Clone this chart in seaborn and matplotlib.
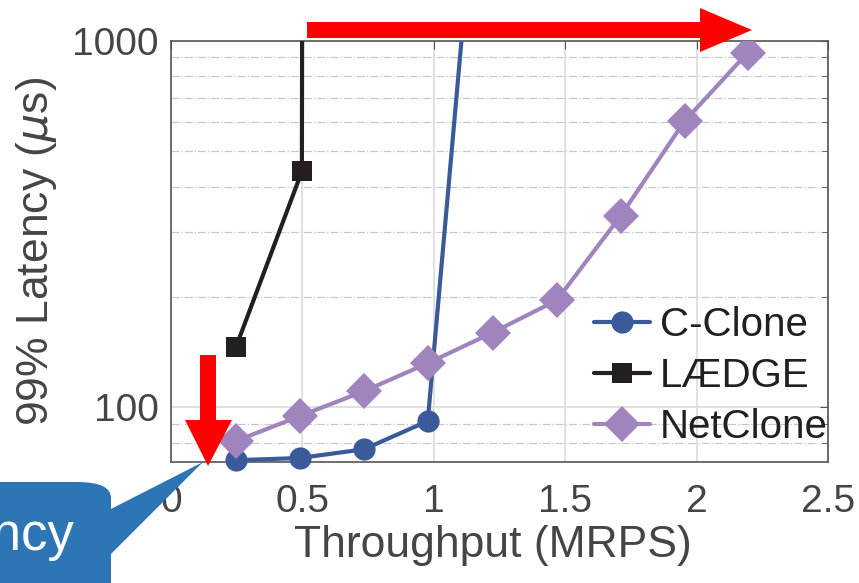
import numpy as np
import pandas as pd
import matplotlib
matplotlib.use("Agg")
import matplotlib.pyplot as plt
import seaborn as sns
from matplotlib.patches import Polygon, FancyBboxPatch
from matplotlib.ticker import FixedLocator, NullFormatter
from matplotlib.transforms import Bbox, TransformedBbox

# --- data ---
cclone_x = [0.247, 0.49, 0.734, 0.977, 1.115]
cclone_y = [71.8, 72.8, 76.9, 91.8, 1200]
laedge_x = [0.247, 0.498, 0.5]
laedge_y = [146, 440, 3000]
netclone_x = [0.247, 0.49, 0.734, 0.977, 1.224, 1.468, 1.711, 1.954, 2.194]
netclone_y = [81, 94.7, 110.7, 132, 160, 196, 333, 603, 927]

series_names = ["C-Clone", "LÆDGE", "NetClone"]
series_colors = ["#3b5a9a", "#231f20", "#a084bd"]
series_markers = ["o", "s", "D"]
series_msize = [16, 14, 18]

x_ticks = [0, 0.5, 1, 1.5, 2, 2.5]
x_ticklabels = ["0", "0.5", "1", "1.5", "2", "2.5"]
y_ticks = [100, 1000]
y_ticklabels = ["100", "1000"]

W, H = 859, 583
sns.set_style("white")
plt.rcParams["font.family"] = ["Liberation Sans", "DejaVu Sans"]
plt.rcParams["mathtext.fontset"] = "dejavusans"

fig = plt.figure(figsize=(W / 100, H / 100), dpi=100)
ax = fig.add_axes([171 / W, 1 - 462 / H, (828 - 171) / W, (462 - 40.7) / H])

xs = [cclone_x, laedge_x, netclone_x]
ys = [cclone_y, laedge_y, netclone_y]
for name, x, y, c, m, ms in zip(series_names, xs, ys, series_colors,
                                series_markers, series_msize):
    df = pd.DataFrame({"x": x, "y": y})
    sns.lineplot(data=df, x="x", y="y", ax=ax, color=c, marker=m,
                 markersize=ms, linewidth=3, markeredgewidth=0,
                 sort=False, label=name, zorder=3)

# let markers at the bottom hang over the axis, but keep the top clipped
clip = TransformedBbox(Bbox([[-0.05, -0.08], [1.05, 1.0]]), ax.transAxes)
for ln in ax.get_lines():
    ln.set_clip_box(clip)

ax.set_yscale("log")
ax.set_xlim(0, 2.5)
ax.set_ylim(71, 1000)

ax.xaxis.set_major_locator(FixedLocator(x_ticks))
ax.set_xticklabels(x_ticklabels)
ax.yaxis.set_major_locator(FixedLocator(y_ticks))
ax.set_yticklabels(y_ticklabels)
minor = [80, 90] + list(range(200, 1000, 100))
ax.yaxis.set_minor_locator(FixedLocator(minor))
ax.yaxis.set_minor_formatter(NullFormatter())

ax.grid(True, which="major", color="#dcdcdc", linestyle="-", linewidth=1.2)
ax.grid(True, which="minor", axis="y", color="#c8c8c8", linestyle="-.",
        linewidth=0.9)
ax.set_axisbelow(True)
for sp in ax.spines.values():
    sp.set_color("#555555")
    sp.set_linewidth(1.2)
ax.tick_params(axis="both", which="major", direction="in", length=6,
               color="#555555", labelsize=28, labelcolor="#454545")
ax.tick_params(axis="x", which="major", pad=16)
ax.tick_params(axis="y", which="major", pad=9)
ax.tick_params(axis="y", which="minor", direction="in", length=4,
               color="#555555")
ax.tick_params(top=True, right=True, which="both")

ax.set_xlabel("Throughput (MRPS)", fontsize=32, color="#454545")
ax.set_ylabel(r"99% Latency ($\mu$s)", fontsize=32, color="#454545")
ax.xaxis.set_label_coords(0.49, -0.15)
ax.yaxis.set_label_coords(-0.17, 0.5)

leg = ax.legend(loc="lower right", frameon=False, fontsize=29,
                handlelength=1.4, handletextpad=0.25, labelspacing=0.33,
                borderpad=0.0, borderaxespad=0.0, bbox_to_anchor=(1.0, 0.037))
for t in leg.get_texts():
    t.set_color("#231f20")


def px(points):
    return [(x / W, 1 - y / H) for x, y in points]


# red arrows (annotations)
h_arrow = [(307, 22), (700, 22), (700, 8), (752, 30), (700, 52), (700, 38),
           (307, 38)]
v_arrow = [(200, 355), (216, 355), (216, 420), (232, 420), (208, 466),
           (185, 420), (200, 420)]
for pts in (h_arrow, v_arrow):
    fig.patches.append(Polygon(px(pts), closed=True, transform=fig.transFigure,
                               facecolor="#ff0000", edgecolor="none",
                               zorder=10))

# speech bubble, cut by the left edge as in the source figure
bubble_blue = "#2e75b6"
fig.patches.append(Polygon(px([(105, 512), (203, 462), (105, 560)]),
                           closed=True, transform=fig.transFigure,
                           facecolor=bubble_blue, edgecolor="none", zorder=9))
fig.patches.append(FancyBboxPatch((-60 / W, -40 / H), 171 / W, (583 - 482 + 40) / H,
                                  boxstyle="round,pad=0,rounding_size=0.04",
                                  transform=fig.transFigure,
                                  facecolor=bubble_blue, edgecolor="none",
                                  zorder=9, mutation_aspect=H / W))
fig.text(74 / W, 1 - 550 / H, "Latency", ha="right", va="baseline",
         fontsize=38, color="white", zorder=11)

fig.savefig("out.png", dpi=100)
